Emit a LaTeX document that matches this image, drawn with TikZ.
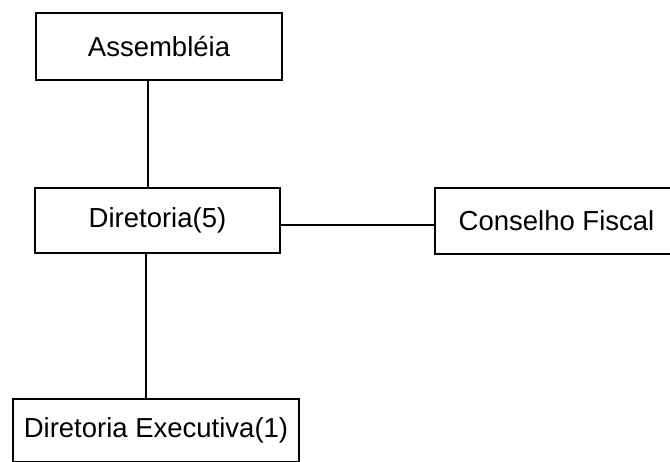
\documentclass[tikz,border=0pt]{standalone}
\usepackage{fontspec}
\setmainfont{Liberation Sans}
\begin{document}
\begin{tikzpicture}[x=1pt,y=-1pt,
  orgbox/.style={draw, line width=1.8pt, inner sep=0pt,
    font=\fontsize{27.5}{33}\selectfont},
  link/.style={line width=1.8pt}]
  \useasboundingbox (0,0) rectangle (670,461);
  \clip (0,0) rectangle (670,461);
  \fill[white] (0,0) rectangle (670,461);

  \node[orgbox, minimum width=246pt, minimum height=67pt] (asm) at (159,46.5) {Assembléia};
  \node[orgbox, minimum width=245pt, minimum height=65pt] (dir) at (157.5,220.5) {Diretoria(5)};
  \node[orgbox, minimum width=243pt, minimum height=66pt] (cf)  at (556.5,221) {Conselho Fiscal};
  \node[orgbox, minimum width=286pt, minimum height=63pt] (dex) at (156,430.5) {Diretoria Executiva(1)};

  \draw[link] ([xshift=-11pt]asm.south) -- ([xshift=-11pt]asm.south |- dir.north);
  \draw[link] ([xshift=-11.5pt]dir.south) -- ([xshift=-11.5pt]dir.south |- dex.north);
  \draw[link] ([yshift=-4.5pt]dir.east) -- ([yshift=-4.5pt]dir.east -| cf.west);
\end{tikzpicture}
\end{document}
